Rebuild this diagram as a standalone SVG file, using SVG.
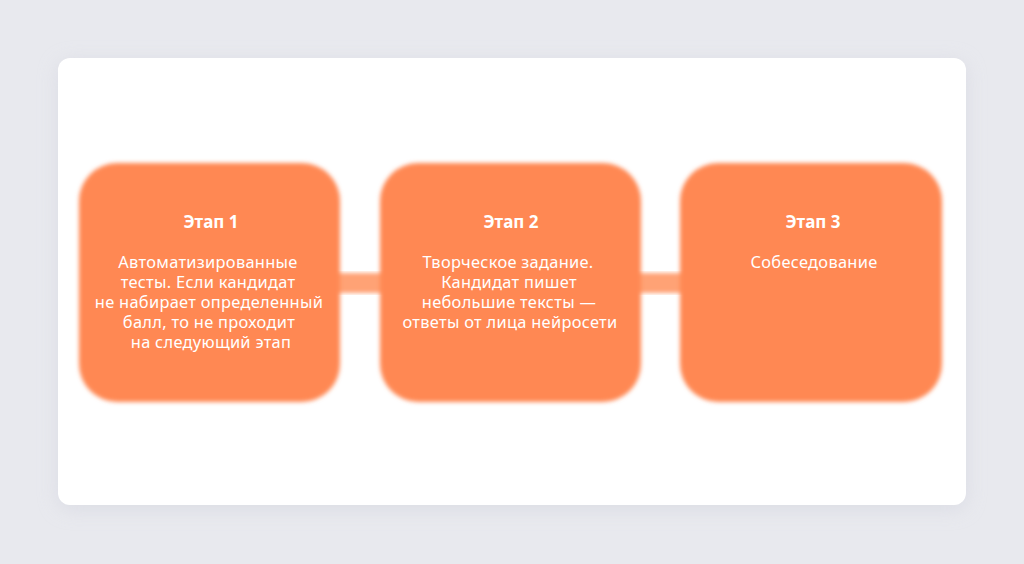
<svg xmlns="http://www.w3.org/2000/svg" width="1024" height="564" viewBox="0 0 1024 564">
<defs>
<filter id="soft" x="-10%" y="-10%" width="120%" height="120%"><feGaussianBlur stdDeviation="2"/></filter>
<filter id="shadow" x="-10%" y="-10%" width="120%" height="130%"><feGaussianBlur stdDeviation="10"/></filter>
<style>
.box{fill:#FF8853;filter:url(#soft)}
.bar{fill:#FFA274;filter:url(#soft)}
.t{font-family:"Noto Sans","Open Sans",sans-serif;fill:#fff;text-anchor:middle}
.h{font-size:17px;font-weight:700}
.b{font-size:16.4px;letter-spacing:0.3px}
</style>
</defs>
<rect width="1024" height="564" fill="#E8E9EE"/>
<rect x="58" y="62" width="908" height="447" rx="12" fill="#D8D9E2" filter="url(#shadow)" opacity="0.8"/>
<rect x="58" y="58" width="908" height="447" rx="12" fill="#FFFFFF"/>
<g id="connectors">
<rect class="bar" x="330" y="273" width="60" height="20"/>
<rect class="bar" x="630" y="273" width="60" height="20"/>
</g>
<g id="stage1">
<rect class="box" x="79" y="163" width="261" height="239" rx="38"/>
<text class="t h" x="211" y="228">Этап 1</text>
<text class="t b"><tspan x="208" y="268">Автоматизированные</tspan><tspan x="208" y="288">тесты. Если кандидат</tspan><tspan x="209" y="308">не набирает определенный</tspan><tspan x="209" y="328">балл, то не проходит</tspan><tspan x="211" y="348">на следующий этап</tspan></text>
</g>
<g id="stage2">
<rect class="box" x="380" y="163" width="261" height="239" rx="38"/>
<text class="t h" x="511" y="228">Этап 2</text>
<text class="t b"><tspan x="508" y="268">Творческое задание.</tspan><tspan x="509" y="288">Кандидат пишет</tspan><tspan x="509" y="308">небольшие тексты —</tspan><tspan x="510" y="328">ответы от лица нейросети</tspan></text>
</g>
<g id="stage3">
<rect class="box" x="680" y="163" width="262" height="239" rx="38"/>
<text class="t h" x="813" y="228">Этап 3</text>
<text class="t b" x="814" y="268">Собеседование</text>
</g>
</svg>
